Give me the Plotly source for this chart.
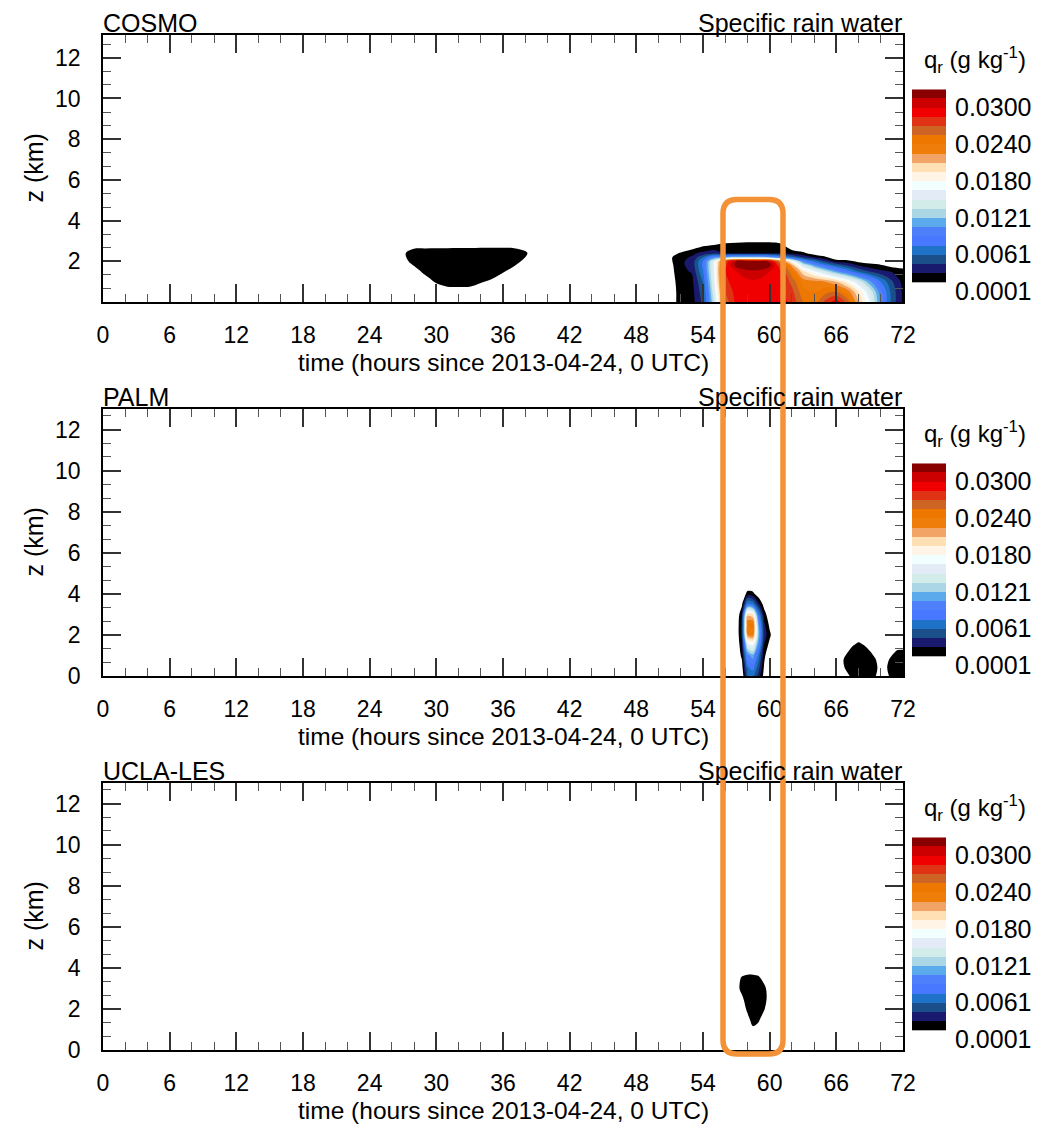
import plotly.graph_objects as go

# ---------------- data ----------------
hour_ticks = [0, 6, 12, 18, 24, 30, 36, 42, 48, 54, 60, 66, 72]
height_ticks_cosmo = [2, 4, 6, 8, 10, 12]
height_ticks_les = [0, 2, 4, 6, 8, 10, 12]

panel_names = ["COSMO", "PALM", "UCLA-LES"]
panel_title_right = "Specific rain water"
x_title = "time (hours since 2013-04-24, 0 UTC)"
y_title = "z (km)"
cbar_title = "q<sub>r</sub> (g kg<sup>-1</sup>)"

# contour levels of q_r (g/kg)
qr_first_level = 0.0001
qr_step = 0.001495
qr_label_text = ["0.0001", "0.0061", "0.0121", "0.0180", "0.0240", "0.0300"]
# fill colours, lowest band (black) to highest band (dark red)
qr_colors = [
    "#000000", "#19196E", "#1A4F8A", "#1E73C8", "#4878FF", "#4D80FA",
    "#5BAAEB", "#AAD6E6", "#D2ECEA", "#E2EBF6", "#F2FFFF", "#FFF4E6",
    "#FFE0B4", "#F2A466", "#EE7D0A", "#EE7700", "#CD6424", "#E03214",
    "#F00000", "#CC0000", "#880000",
]

# COSMO: weak rain aloft on day 2
cosmo_a_time = [26, 27, 28, 29, 30, 31, 32, 33, 34, 35, 36, 37, 38, 39]
cosmo_a_height = [0.4, 0.8, 1.2, 1.6, 2.0, 2.4, 2.8]
cosmo_a_qr = [
    [0, 0, 0, 0, 0, 0, 0, 0, 0, 0, 0, 0, 0, 0],
    [0, 0, 0, 0, .0012, .0018, .0019, .0018, .0012, .0006, 0, 0, 0, 0],
    [0, 0, 0, .0012, .0025, .0026, .0026, .0026, .0024, .0018, .0010, .0004, 0, 0],
    [0, 0, .0010, .0025, .0027, .0028, .0028, .0028, .0027, .0026, .0020, .0012, .0004, 0],
    [0, .0008, .0024, .0027, .0028, .0028, .0028, .0028, .0028, .0028, .0027, .0022, .0012, 0],
    [0, .0012, .0028, .0028, .0028, .0028, .0028, .0028, .0028, .0028, .0028, .0027, .0020, 0],
    [0, .0002, .0006, .0007, .0008, .0008, .0009, .0009, .0010, .0010, .0010, .0009, .0004, 0],
]

# COSMO: main rain event, day 3
cosmo_b_time = [50, 51, 52, 53, 54, 55, 56, 57, 58, 59, 60, 61, 62, 63, 64, 65, 66, 67, 68, 69, 70, 71, 72]
cosmo_b_height = [0.0, 0.5, 1.0, 1.5, 1.8, 2.0, 2.2, 2.4, 2.7, 3.0, 3.3]
cosmo_b_qr = [
    [0, 0, .0027, .0024, .0050, .0140, .0260, .0290, .0292, .0292, .0290, .0292, .0280, .0255, .0245, .0275, .0295, .0265, .0210, .0165, .0100, .0055, .0028],
    [0, 0, .0027, .0025, .0055, .0150, .0270, .0292, .0294, .0294, .0292, .0290, .0275, .0245, .0240, .0250, .0255, .0235, .0195, .0150, .0095, .0055, .0028],
    [0, .0004, .0027, .0027, .0062, .0160, .0280, .0295, .0296, .0296, .0294, .0288, .0265, .0235, .0230, .0225, .0210, .0185, .0150, .0110, .0075, .0048, .0026],
    [0, .0008, .0028, .0032, .0075, .0165, .0285, .0300, .0312, .0312, .0300, .0285, .0245, .0200, .0170, .0140, .0110, .0085, .0060, .0045, .0035, .0030, .0022],
    [0, .0010, .0028, .0036, .0080, .0165, .0280, .0322, .0325, .0325, .0320, .0270, .0220, .0150, .0110, .0080, .0060, .0045, .0030, .0022, .0018, .0010, .0010],
    [0, .0012, .0028, .0036, .0078, .0160, .0270, .0322, .0325, .0322, .0312, .0240, .0180, .0100, .0070, .0045, .0025, .0022, .0012, .0008, .0004, 0, 0],
    [0, .0012, .0028, .0032, .0060, .0100, .0110, .0120, .0120, .0120, .0110, .0090, .0065, .0045, .0030, .0020, 0, 0, 0, 0, 0, 0, 0],
    [0, .0008, .0018, .0028, .0035, .0040, .0029, .0029, .0029, .0029, .0029, .0028, .0025, .0020, .0008, 0, 0, 0, 0, 0, 0, 0, 0],
    [0, 0, 0, .0008, .0018, .0022, .0025, .0026, .0027, .0027, .0027, .0024, .0008, 0, 0, 0, 0, 0, 0, 0, 0, 0, 0],
    [0, 0, 0, 0, 0, .0005, .0010, .0012, .0013, .0013, .0013, .0010, 0, 0, 0, 0, 0, 0, 0, 0, 0, 0, 0],
    [0, 0, 0, 0, 0, 0, 0, 0, 0, 0, 0, 0, 0, 0, 0, 0, 0, 0, 0, 0, 0, 0, 0],
]

# PALM: convective plume near hour 58
palm_a_time = [56.5, 57.0, 57.5, 58.0, 58.5, 59.0, 59.5, 60.0, 60.5]
palm_a_height = [0.0, 0.5, 1.0, 1.5, 2.0, 2.5, 3.0, 3.5, 4.0, 4.5]
palm_a_qr = [
    [0, 0, 0, .0060, .0065, .0040, .0010, 0, 0],
    [0, 0, .0010, .0075, .0085, .0055, .0015, 0, 0],
    [0, 0, .0020, .0100, .0115, .0070, .0020, .0002, 0],
    [0, 0, .0028, .0150, .0165, .0100, .0030, .0010, 0],
    [0, .0002, .0035, .0225, .0232, .0120, .0040, .0020, 0],
    [0, .0002, .0035, .0240, .0245, .0110, .0035, .0012, 0],
    [0, 0, .0030, .0205, .0195, .0080, .0025, .0002, 0],
    [0, 0, .0012, .0080, .0070, .0035, .0008, 0, 0],
    [0, 0, 0, .0022, .0020, .0005, 0, 0, 0],
    [0, 0, 0, 0, 0, 0, 0, 0, 0],
]

# PALM: shallow rain at the end of the period
palm_b_time = [66, 66.5, 67, 67.5, 68, 68.5, 69, 69.5, 70, 70.5, 71, 71.5, 72]
palm_b_height = [0.0, 0.4, 0.8, 1.2, 1.6, 2.0]
palm_b_qr = [
    [0, 0, .0010, .0025, .0026, .0026, .0025, .0018, 0, .0008, .0025, .0027, .0027],
    [0, .0008, .0024, .0027, .0028, .0028, .0027, .0024, .0004, .0014, .0027, .0028, .0028],
    [0, .0012, .0025, .0027, .0028, .0028, .0026, .0018, 0, .0008, .0024, .0027, .0027],
    [0, 0, .0014, .0024, .0026, .0024, .0017, .0004, 0, 0, .0008, .0019, .0020],
    [0, 0, 0, .0012, .0018, .0013, 0, 0, 0, 0, 0, 0, 0],
    [0, 0, 0, 0, 0, 0, 0, 0, 0, 0, 0, 0, 0],
]

# UCLA-LES: small rain cell near hour 58
ucla_time = [56.5, 57.0, 57.5, 58.0, 58.5, 59.0, 59.5, 60.0, 60.5]
ucla_height = [0.5, 1.0, 1.5, 2.0, 2.5, 3.0, 3.5, 4.0]
ucla_qr = [
    [0, 0, 0, 0, 0, 0, 0, 0, 0],
    [0, 0, 0, 0, .0012, .0006, 0, 0, 0],
    [0, 0, 0, .0010, .0024, .0020, .0004, 0, 0],
    [0, 0, .0004, .0020, .0027, .0027, .0018, 0, 0],
    [0, 0, .0012, .0026, .0028, .0028, .0024, .0006, 0],
    [0, .0008, .0022, .0027, .0028, .0028, .0022, .0004, 0],
    [0, .0004, .0019, .0024, .0024, .0020, .0008, 0, 0],
    [0, 0, 0, 0, 0, 0, 0, 0, 0],
]

# ---------------- geometry / style ----------------
W, H = 1044, 1126
FONT = "Liberation Sans, Arial, sans-serif"
PLOT_L, PLOT_R = 103, 903
PANEL_TOPS = [35, 409, 783]
PANEL_H = 267
Y_RANGES = [[0, 13.12], [0, 13.0], [0, 13.0]]
CB_L, CB_R = 912, 946
CB_TOP_OFF, CB_BOT_OFF = 54.3, 256.5
ORANGE = "#F39237"


def px_x(x):
    return x / W


def px_y(y):
    return 1 - y / H


n_bands = len(qr_colors)
levels = [qr_first_level + k * qr_step for k in range(n_bands + 2)]

contour_scale = [[0.0, "rgba(255,255,255,0)"]] + [
    [(j + 1) / n_bands, c] for j, c in enumerate(qr_colors)
]
bar_scale = []
for i, c in enumerate(qr_colors):
    bar_scale.append([i / n_bands, c])
    bar_scale.append([(i + 1) / n_bands, c])

contour_cfg = dict(
    start=levels[1],
    end=levels[1] + (n_bands - 1 + 0.2) * qr_step,
    size=qr_step,
    coloring="fill",
    showlines=False,
)

fig = go.Figure()

panel_fields = [
    [(cosmo_a_time, cosmo_a_height, cosmo_a_qr), (cosmo_b_time, cosmo_b_height, cosmo_b_qr)],
    [(palm_a_time, palm_a_height, palm_a_qr), (palm_b_time, palm_b_height, palm_b_qr)],
    [(ucla_time, ucla_height, ucla_qr)],
]

for p, fields in enumerate(panel_fields):
    sfx = "" if p == 0 else str(p + 1)
    for (t, z, q) in fields:
        fig.add_trace(go.Contour(
            x=t, y=z, z=q,
            contours=contour_cfg,
            autocontour=False,
            colorscale=contour_scale,
            showscale=False,
            line=dict(width=0),
            hoverinfo="skip",
            xaxis="x" + sfx, yaxis="y" + sfx,
        ))
    # label bar
    cb = str(p + 4)
    fig.add_trace(go.Heatmap(
        x=[0, 1],
        y=levels[1:n_bands + 2],
        z=[[i + 0.5] for i in range(n_bands)],
        zmin=0, zmax=n_bands,
        colorscale=bar_scale,
        showscale=False,
        hoverinfo="skip",
        xaxis="x" + cb, yaxis="y" + cb,
    ))

layout = dict(
    width=W, height=H, autosize=False,
    margin=dict(l=0, r=0, t=0, b=0, pad=0, autoexpand=False),
    paper_bgcolor="white", plot_bgcolor="white",
    showlegend=False,
    font=dict(family=FONT, color="black"),
)

annotations = []
for p in range(3):
    top = PANEL_TOPS[p]
    bot = top + PANEL_H
    sfx = "" if p == 0 else str(p + 1)
    ax_x = "xaxis" + sfx
    ax_y = "yaxis" + sfx
    layout[ax_x] = dict(
        domain=[px_x(PLOT_L), px_x(PLOT_R)],
        range=[0, 72],
        tickvals=hour_ticks,
        ticks="inside", ticklen=18, tickwidth=1.5, tickcolor="#333333",
        minor=dict(dtick=2, tick0=0, ticks="inside", ticklen=8, tickwidth=1.2, tickcolor="#555555"),
        showline=True, linecolor="black", linewidth=1.5, mirror="allticks",
        showgrid=False, zeroline=False, automargin=False,
        tickfont=dict(size=23, color="black", family=FONT),
        ticklabelstandoff=12,
        anchor="y" + sfx,
        fixedrange=True,
    )
    layout[ax_y] = dict(
        domain=[px_y(bot), px_y(top)],
        range=Y_RANGES[p],
        tickvals=height_ticks_cosmo if p == 0 else height_ticks_les,
        ticks="inside", ticklen=18, tickwidth=1.5, tickcolor="#333333",
        minor=dict(dtick=2 / 3, tick0=0, ticks="inside", ticklen=8, tickwidth=1.2, tickcolor="#555555"),
        showline=True, linecolor="black", linewidth=1.5, mirror="allticks",
        showgrid=False, zeroline=False, automargin=False,
        tickfont=dict(size=23, color="black", family=FONT),
        ticklabelstandoff=16,
        anchor="x" + sfx,
        fixedrange=True,
    )
    cb = str(p + 4)
    layout["xaxis" + cb] = dict(
        domain=[px_x(CB_L), px_x(CB_R)], range=[0, 1], visible=False,
        anchor="y" + cb, fixedrange=True, automargin=False,
    )
    layout["yaxis" + cb] = dict(
        domain=[px_y(top + CB_BOT_OFF), px_y(top + CB_TOP_OFF)],
        range=[levels[0] - 0.00002, levels[n_bands + 1]],
        side="right", anchor="x" + cb,
        tickvals=[levels[4 * k] for k in range(len(qr_label_text))],
        ticktext=qr_label_text,
        ticks="", showline=False, showgrid=False, zeroline=False, automargin=False,
        tickfont=dict(size=25, color="black", family=FONT),
        ticklabelstandoff=8,
        fixedrange=True,
    )

    annotations += [
        dict(text=panel_names[p], xref="paper", yref="paper",
             x=px_x(PLOT_L - 2), y=px_y(top + 4), xanchor="left", yanchor="bottom",
             showarrow=False, font=dict(size=25, family=FONT, color="black")),
        dict(text=panel_title_right, xref="paper", yref="paper",
             x=px_x(PLOT_R + 1), y=px_y(top + 4), xanchor="right", yanchor="bottom",
             showarrow=False, font=dict(size=25, family=FONT, color="black")),
        dict(text=x_title, xref="paper", yref="paper",
             x=px_x((PLOT_L + PLOT_R) / 2), y=px_y(top + 327.5), xanchor="center", yanchor="middle",
             showarrow=False, font=dict(size=24.5, family=FONT, color="black")),
        dict(text=y_title, xref="paper", yref="paper", textangle=-90,
             x=px_x(33), y=px_y(top + PANEL_H / 2), xanchor="center", yanchor="middle",
             showarrow=False, font=dict(size=25, family=FONT, color="black")),
        dict(text=cbar_title, xref="paper", yref="paper",
             x=px_x(975), y=px_y(top + 25), xanchor="center", yanchor="middle",
             showarrow=False, font=dict(size=24, family=FONT, color="black")),
    ]

layout["annotations"] = annotations

# orange highlight box (rounded rectangle) spanning the three panels
bx0, bx1 = px_x(723), px_x(783)
by_top, by_bot = px_y(199.5), px_y(1054)
rx, ry = 14 / W, 14 / H
path = (
    f"M {bx0 + rx},{by_top} L {bx1 - rx},{by_top} Q {bx1},{by_top} {bx1},{by_top - ry} "
    f"L {bx1},{by_bot + ry} Q {bx1},{by_bot} {bx1 - rx},{by_bot} "
    f"L {bx0 + rx},{by_bot} Q {bx0},{by_bot} {bx0},{by_bot + ry} "
    f"L {bx0},{by_top - ry} Q {bx0},{by_top} {bx0 + rx},{by_top} Z"
)
layout["shapes"] = [dict(type="path", path=path, xref="paper", yref="paper",
                         line=dict(color=ORANGE, width=5.5), layer="above")]

fig.update_layout(**layout)
fig.write_html(
    "out.html",
    config={"displayModeBar": False, "responsive": False},
    post_script=(
        "document.documentElement.style.overflow='hidden';"
        "document.documentElement.style.margin='0px';"
        "document.body.style.overflow='hidden';"
        "document.body.style.margin='0px';"
        "document.body.style.padding='0px';"
    ),
)
